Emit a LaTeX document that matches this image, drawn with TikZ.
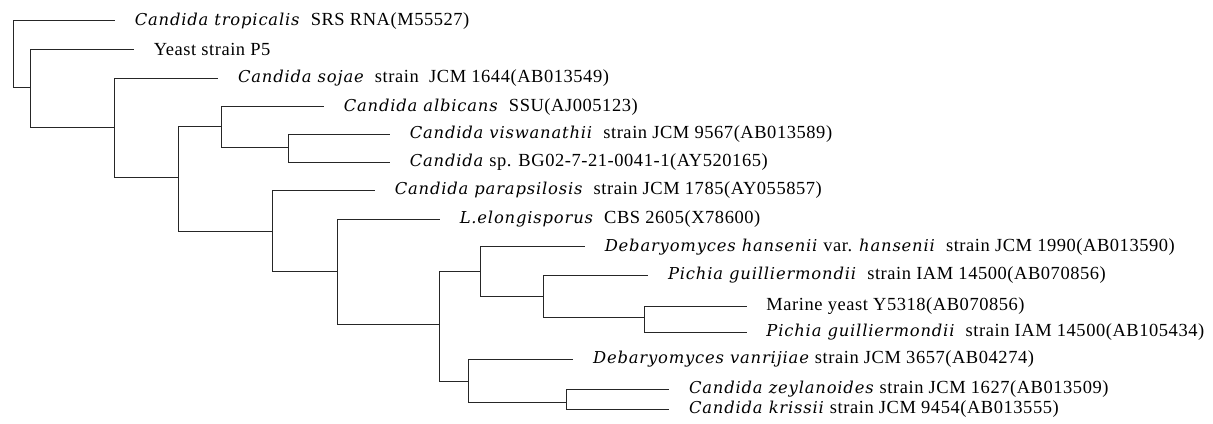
\documentclass[tikz,border=0pt]{standalone}
\usepackage{fontspec}
\setmainfont{Liberation Serif}[Scale=1.05,LetterSpace=3,ItalicFont={DejaVu Serif Italic},ItalicFeatures={Scale=0.93,LetterSpace=5}]
\begin{document}
\begin{tikzpicture}[x=0.75pt,y=-0.75pt,
	branch/.style={line width=0.7pt,color=black!85},
	taxon/.style={right,inner sep=0pt,xshift=19.5pt*0.75,font=\fontsize{13.2}{15}\selectfont}]
	\useasboundingbox (0,0) rectangle (1213,424);
	% internal nodes of the tree
	\coordinate (root) at (13.3,54);
	\coordinate (A) at (30,87.7);
	\coordinate (B) at (114.3,127);
	\coordinate (C) at (178,177.7);
	\coordinate (D) at (221.7,126);
	\coordinate (E) at (288.3,147);
	\coordinate (F) at (272,231.7);
	\coordinate (G) at (337.3,271.7);
	\coordinate (H) at (439.3,324.3);
	\coordinate (I) at (480,271.7);
	\coordinate (K) at (543.3,296.7);
	\coordinate (L) at (644,317.3);
	\coordinate (J) at (468.3,381.7);
	\coordinate (M) at (566,402.3);
	% ends of the leaves
	\coordinate (l1) at (115,20.7);
	\coordinate (l2) at (134,49.3);
	\coordinate (l3) at (218.3,78.3);
	\coordinate (l4) at (324,106.7);
	\coordinate (l5) at (390,134);
	\coordinate (l6) at (390,162.3);
	\coordinate (l7) at (375,190);
	\coordinate (l8) at (440,219);
	\coordinate (l9) at (585,246.7);
	\coordinate (l10) at (648.3,275);
	\coordinate (l11) at (746.7,306);
	\coordinate (l12) at (746.7,332.3);
	\coordinate (l13) at (573.3,359.3);
	\coordinate (l14) at (669.3,389.3);
	\coordinate (l15) at (669.3,409.3);

	\draw[branch] (root) |- (l1);
	\draw[branch] (root) |- (A);
	\draw[branch] (A) |- (l2);
	\draw[branch] (A) |- (B);
	\draw[branch] (B) |- (l3);
	\draw[branch] (B) |- (C);
	\draw[branch] (C) |- (D);
	\draw[branch] (C) |- (F);
	\draw[branch] (D) |- (l4);
	\draw[branch] (D) |- (E);
	\draw[branch] (E) |- (l5);
	\draw[branch] (E) |- (l6);
	\draw[branch] (F) |- (l7);
	\draw[branch] (F) |- (G);
	\draw[branch] (G) |- (l8);
	\draw[branch] (G) |- (H);
	\draw[branch] (H) |- (I);
	\draw[branch] (H) |- (J);
	\draw[branch] (I) |- (l9);
	\draw[branch] (I) |- (K);
	\draw[branch] (K) |- (l10);
	\draw[branch] (K) |- (L);
	\draw[branch] (L) |- (l11);
	\draw[branch] (L) |- (l12);
	\draw[branch] (J) |- (l13);
	\draw[branch] (J) |- (M);
	\draw[branch] (M) |- (l14);
	\draw[branch] (M) |- (l15);

	\node[taxon] (t1) at (l1) {\textit{Candida tropicalis} \ SRS RNA(M55527)};
	\node[taxon] (t2) at (l2) {Yeast strain P5};
	\node[taxon] (t3) at (l3) {\textit{Candida sojae} \ strain \ JCM 1644(AB013549)};
	\node[taxon] (t4) at (l4) {\textit{Candida albicans} \ SSU(AJ005123)};
	\node[taxon] (t5) at (l5) {\textit{Candida viswanathii} \ strain JCM 9567(AB013589)};
	\node[taxon] (t6) at (l6) {\textit{Candida} sp. BG02-7-21-0041-1(AY520165)};
	\node[taxon] (t7) at (l7) {\textit{Candida parapsilosis} \ strain JCM 1785(AY055857)};
	\node[taxon] (t8) at (l8) {\textit{L.elongisporus} \ CBS 2605(X78600)};
	\node[taxon] (t9) at (l9) {\textit{Debaryomyces hansenii} var. \textit{hansenii} \ strain JCM 1990(AB013590)};
	\node[taxon] (t10) at (l10) {\textit{Pichia guilliermondii} \ strain IAM 14500(AB070856)};
	\node[taxon] (t11) at (l11) {Marine yeast Y5318(AB070856)};
	\node[taxon] (t12) at (l12) {\textit{Pichia guilliermondii} \ strain IAM 14500(AB105434)};
	\node[taxon] (t13) at (l13) {\textit{Debaryomyces vanrijiae} strain JCM 3657(AB04274)};
	\node[taxon] (t14) at (l14) {\textit{Candida zeylanoides} strain JCM 1627(AB013509)};
	\node[taxon] (t15) at (l15) {\textit{Candida krissii} strain JCM 9454(AB013555)};
\end{tikzpicture}
\end{document}
